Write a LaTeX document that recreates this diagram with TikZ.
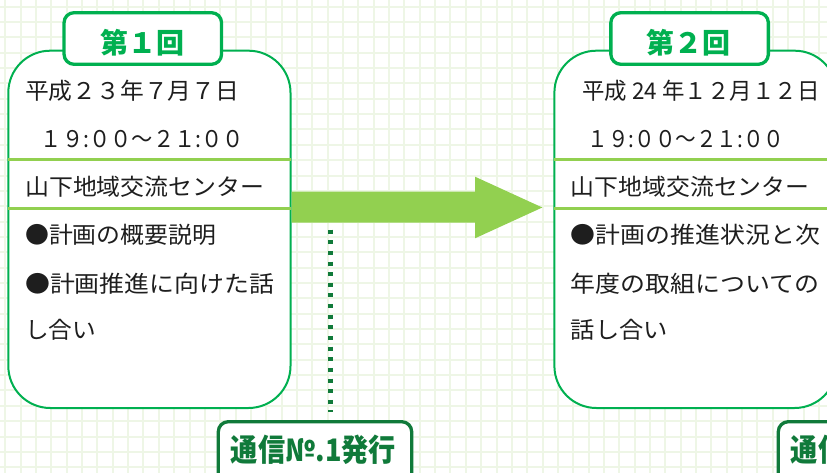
\documentclass[tikz,border=0pt]{standalone}
\usepackage{fontspec}
\setmainfont{Noto Sans CJK JP}
\definecolor{boxgreen}{RGB}{0,176,80}
\definecolor{sepgreen}{RGB}{146,208,80}
\definecolor{darkgreen}{RGB}{16,122,58}
\definecolor{gridc}{RGB}{238,246,230}
\definecolor{txt}{RGB}{30,30,30}
\newcommand{\fitw}[2]{\resizebox{#1}{\height}{#2}}
\tikzset{
  panel/.style={draw=boxgreen, line width=2pt, fill=white, rounded corners=42pt, inner sep=0pt, minimum width=282.2pt, minimum height=357.3pt},
  tabbox/.style={draw=boxgreen, line width=3.3pt, fill=white, rounded corners=10pt, inner sep=0pt, minimum width=157.5pt, minimum height=51.6pt},
  tabtext/.style={anchor=base, inner sep=0pt, text=boxgreen, font=\bfseries\fontsize{28}{28}\selectfont},
  notebox/.style={draw=darkgreen, line width=3.3pt, fill=white, rounded corners=10pt, inner sep=0pt, minimum width=193.4pt, minimum height=78.3pt},
  notetext/.style={anchor=base west, inner sep=0pt, text=darkgreen, font=\bfseries\fontsize{31}{31}\selectfont},
  line/.style={anchor=base west, inner sep=0pt, text=txt, font=\fontsize{23}{23}\selectfont},
  sepline/.style={draw=sepgreen, line width=3pt},
  dotline/.style={draw=darkgreen, line width=4.5pt, dash pattern=on 4pt off 6.63pt},
  gridline/.style={draw=gridc, line width=2pt}
}
\begin{document}
\begin{tikzpicture}[x=1pt,y=-1pt]
\useasboundingbox (0,0) rectangle (827,473);
\clip (0,0) rectangle (827,473);
\fill[white] (0,0) rectangle (827,473);
\foreach \i in {0,...,54} \draw[gridline] ({5.3+15.35*\i},0) -- ({5.3+15.35*\i},473);
\foreach \i in {0,...,31} \draw[gridline] (0,{6.7+15.35*\i}) -- (827,{6.7+15.35*\i});

% panels
\node[panel] (box1) at (149.4,229.35) {};
\node[panel] (box2) at (695.5,229.35) {};

% separators
\coordinate (s1) at (0,159.3);
\coordinate (s2) at (0,208.3);
\draw[sepline] ([xshift=1pt]box1.west |- s1) -- ([xshift=-1pt]box1.east |- s1);
\draw[sepline] ([xshift=1pt]box1.west |- s2) -- ([xshift=-1pt]box1.east |- s2);
\draw[sepline] ([xshift=1pt]box2.west |- s1) -- ([xshift=-1pt]box2.east |- s1);
\draw[sepline] ([xshift=1pt]box2.west |- s2) -- ([xshift=-1pt]box2.east |- s2);

% arrow
\coordinate (a1) at (0,191.7);
\coordinate (a2) at (0,222.7);
\fill[sepgreen] (box1.east |- a1) -- (475,191.7) -- (475,176.7) -- (542.3,207.5) -- (475,238.3) -- (475,222.7) -- (box1.east |- a2) -- cycle;

% tabs
\node[tabbox] (tab1) at (142.8,38.5) {};
\node[tabtext] (tab1t) at (142.8,53.2) {第１回};
\node[tabbox] (tab2) at (689.6,38.5) {};
\node[tabtext] (tab2t) at (688.3,53.2) {第２回};

% box 1 text
\node[line] (b1l1) at (25,99.5) {\fitw{214pt}{平成２３年７月７日}};
\node[line] (b1l2) at (40.7,147.1) {\fitw{203pt}{１９:００～２１:００}};
\node[line] (b1l3) at (25,195.5) {\fitw{239pt}{山下地域交流センター}};
\node[line] (b1l4) at (25,243.8) {\fitw{191pt}{●計画の概要説明}};
\node[line] (b1l5) at (25,292.1) {\fitw{249pt}{●計画推進に向けた話}};
\node[line] (b1l6) at (25,338.8) {\fitw{71pt}{し合い}};

% box 2 text
\node[line] (b2l1) at (582.3,99.5) {\fitw{237pt}{平成 24 年１２月１２日}};
\node[line] (b2l2) at (587.3,147.1) {\fitw{197pt}{１９:００～２１:００}};
\node[line] (b2l3) at (570.7,195.5) {\fitw{238.6pt}{山下地域交流センター}};
\node[line] (b2l4) at (570.7,243.8) {\fitw{249pt}{●計画の推進状況と次}};
\node[line] (b2l5) at (570.7,292.1) {\fitw{248.6pt}{年度の取組についての}};
\node[line] (b2l6) at (570.7,338.8) {\fitw{97pt}{話し合い}};

% dotted connector
\coordinate (d1) at (330.5,229.7);
\coordinate (d2) at (330.5,411.5);
\draw[dotline] (d1) -- (d2);

% notes
\node[notebox] (note1) at (315,460.85) {};
\node[notetext] (note1t) at (230.7,461.8) {\fitw{165pt}{通信№.1発行}};
\node[notebox] (note2) at (875,460.85) {};
\node[notetext] (note2t) at (790.7,461.8) {\fitw{165pt}{通信\phantom{№.1発行}}};
\end{tikzpicture}
\end{document}
